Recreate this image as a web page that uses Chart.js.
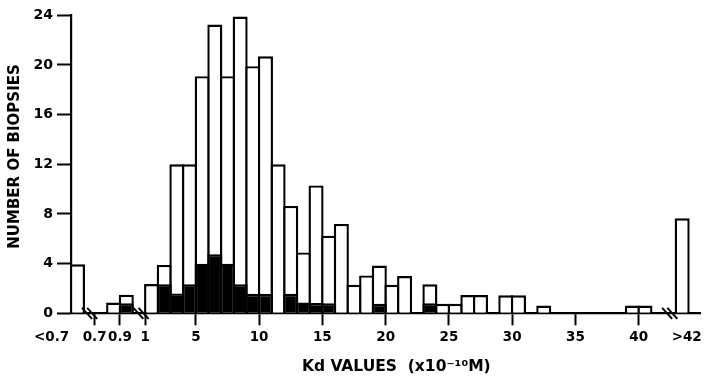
<!DOCTYPE html>
<html>
<head>
<meta charset="utf-8">
<script src="https://cdn.jsdelivr.net/npm/chart.js@4.4.1/dist/chart.umd.min.js"></script>
<style>
  html, body { margin: 0; padding: 0; background: #fff; }
  canvas { display: block; }
</style>
</head>
<body>
<canvas id="c" width="708" height="376"></canvas>
<script>
// ---- data ----
// bins: '<0.7', then 0.1-wide bins 0.7..1.0, then 1-wide bins 1..42, then '>42'
const binStarts = ['<0.7', 0.7, 0.8, 0.9,
  1, 2, 3, 4, 5, 6, 7, 8, 9, 10, 11, 12, 13, 14, 15, 16, 17, 18, 19, 20,
  21, 22, 23, 24, 25, 26, 27, 28, 29, 30, 31, 32, 33, 34, 35, 36, 37, 38, 39, 40, 41,
  '>42'];
const totalCounts = [3.95, 0, 0.86, 1.5,
  2.35, 3.9, 12.0, 12.0, 19.1, 23.25, 19.1, 23.9, 19.9, 20.7, 12.0, 8.65, 4.9, 10.3, 6.25, 7.2, 2.3, 3.05, 3.85, 2.3,
  3.0, 0, 2.33, 0.77, 0.77, 1.47, 1.47, 0, 1.45, 1.45, 0, 0.62, 0, 0, 0, 0, 0, 0, 0.62, 0.62, 0,
  7.65];
const blackCounts = [0, 0, 0, 0.8,
  0, 2.33, 1.6, 2.33, 4.0, 4.75, 4.0, 2.33, 1.57, 1.57, 0, 1.57, 0.86, 0.82, 0.8, 0, 0, 0, 0.77, 0,
  0, 0, 0.8, 0, 0, 0, 0, 0, 0, 0, 0, 0, 0, 0, 0, 0, 0, 0, 0, 0, 0,
  0];
const tickLabels = ['<0.7', '0.7', '0.9', '1', '5', '10', '15', '20', '25', '30', '35', '40', '>42'];
const yTickStep = 4;
const yMax = 24;

// ---- broken axis mapping (Kd value -> axis unit) ----
const X_MIN = -4.87, X_MAX = 44.85;
function binCenter(b) {
  if (b === '<0.7') return -4.36;
  if (b === '>42') return 43.44;
  if (b < 1) return -3 + (b - 0.7) * 10 + 0.5;   // compressed 0.7-1.0 segment
  return b + 0.5;
}
function tickPos(lbl) {
  if (lbl === '<0.7') return -6.4;
  if (lbl === '>42') return 43.8;
  const v = parseFloat(lbl);
  if (v < 1) return -3 + (v - 0.7) * 10;
  return v;
}
const breakPositions = [-3.4, 0.66, 42.46];

const totalPts = [], blackPts = [];
binStarts.forEach((b, i) => {
  if (totalCounts[i] > 0) totalPts.push({ x: binCenter(b), y: totalCounts[i] });
  if (blackCounts[i] > 0) blackPts.push({ x: binCenter(b), y: blackCounts[i] });
});
const tickValues = tickLabels.map(tickPos);

const BW = 2.4;
const barPct = 1 + BW / ((700 - 71) / (X_MAX - X_MIN));

const breakPlugin = {
  id: 'breaks',
  afterDraw(chart) {
    const { ctx, scales } = chart;
    const py = scales.y.getPixelForValue(0);
    ctx.save();
    ctx.strokeStyle = '#000';
    ctx.lineWidth = 2;
    breakPositions.forEach(b => {
      const px = scales.x.getPixelForValue(b);
      [-2.6, 2.6].forEach(d => {
        ctx.beginPath();
        ctx.moveTo(px + d - 5, py - 5.5);
        ctx.lineTo(px + d + 5, py + 5.5);
        ctx.stroke();
      });
    });
    ctx.restore();
  }
};

const FONT = "'DejaVu Sans', sans-serif";

new Chart(document.getElementById('c'), {
  type: 'bar',
  data: {
    datasets: [
      { label: 'black', data: blackPts, backgroundColor: '#000', borderColor: '#000',
        borderWidth: BW, grouped: false, barPercentage: barPct, categoryPercentage: 1 },
      { label: 'total', data: totalPts, backgroundColor: '#fff', borderColor: '#000',
        borderWidth: BW, grouped: false, barPercentage: barPct, categoryPercentage: 1 }
    ]
  },
  options: {
    responsive: false,
    animation: false,
    layout: { padding: { top: 15.3, right: 8, bottom: 0, left: 0 } },
    plugins: { legend: { display: false }, tooltip: { enabled: false } },
    scales: {
      x: {
        type: 'linear',
        min: X_MIN, max: X_MAX,
        bounds: 'data',
        offset: false,
        afterBuildTicks: s => { s.ticks = tickValues.map(v => ({ value: v })); },
        afterFit: s => { s.height = 376 - 313.3; },
        ticks: {
          autoSkip: false, maxRotation: 0, minRotation: 0,
          callback: (v, i) => tickLabels[i],
          color: '#000', padding: 4,
          font: { family: FONT, size: 13.5, weight: 'bold' }
        },
        grid: {
          offset: false, drawOnChartArea: false, drawTicks: true,
          tickLength: 12, tickWidth: 2,
          tickColor: c => (c.index === 0 || c.index === tickLabels.length - 1) ? 'rgba(0,0,0,0)' : '#000'
        },
        border: { display: true, color: '#000', width: 2.2 },
        title: {
          display: true,
          text: '    Kd VALUES  (x10\u207B\u00B9\u2070M)',
          color: '#000',
          font: { family: FONT, size: 15.5, weight: 'bold' },
          padding: { top: 0, bottom: 0 }
        }
      },
      y: {
        min: 0, max: yMax,
        afterFit: s => { s.width = 71; },
        ticks: {
          stepSize: yTickStep, color: '#000', padding: 4,
          font: { family: FONT, size: 14, weight: 'bold' }
        },
        grid: { drawOnChartArea: false, drawTicks: true, tickLength: 14, tickWidth: 2, tickColor: '#000' },
        border: { display: true, color: '#000', width: 2.2 },
        title: {
          display: true,
          text: '   NUMBER OF BIOPSIES',
          color: '#000',
          font: { family: FONT, size: 15, weight: 'bold' },
          padding: { top: 6.5, bottom: 0 }
        }
      }
    }
  },
  plugins: [breakPlugin]
});
</script>
</body>
</html>
